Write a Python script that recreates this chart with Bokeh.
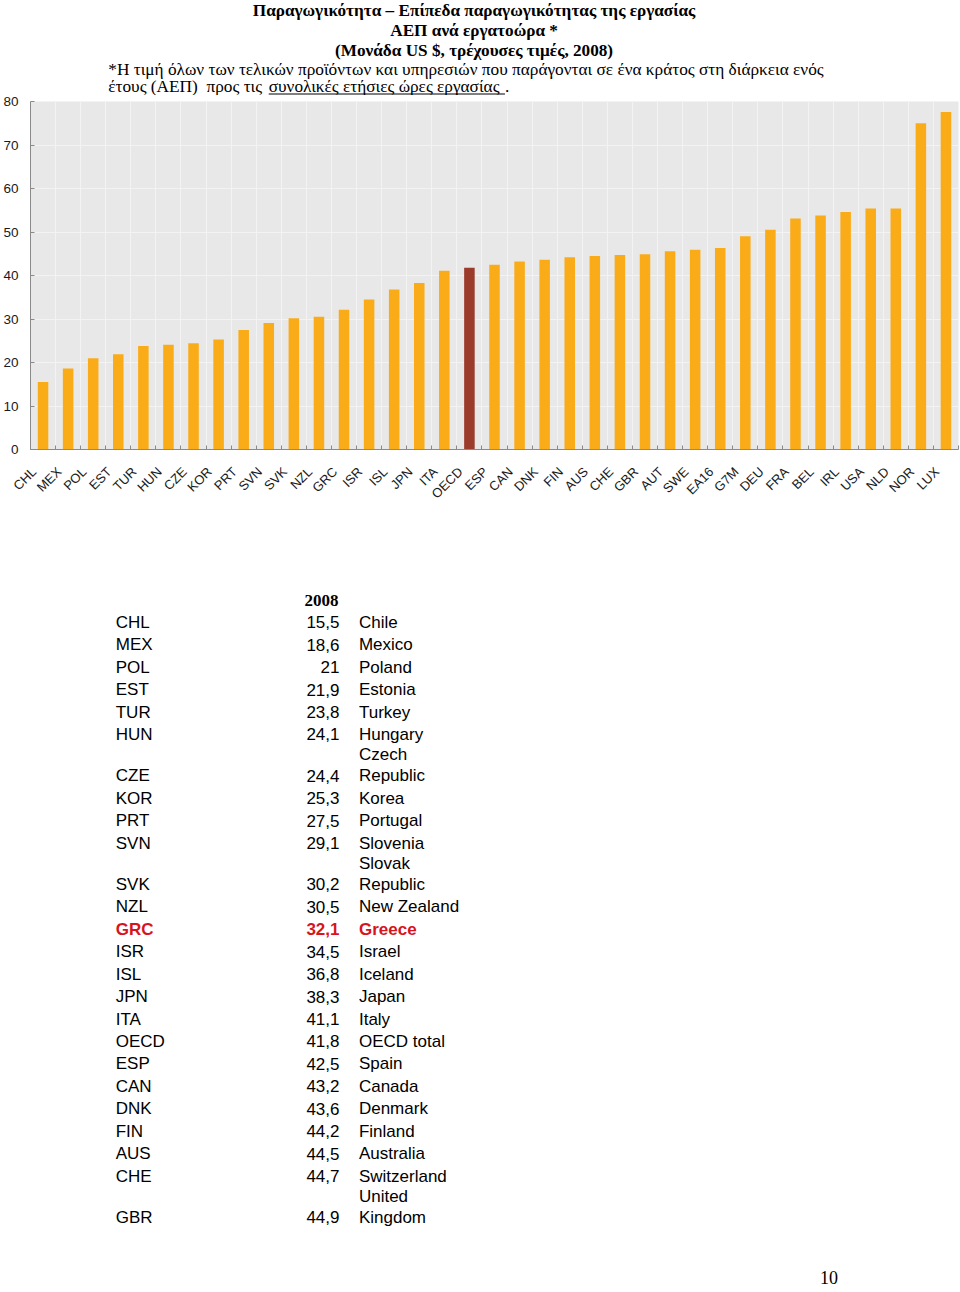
import math
from bokeh.plotting import figure
from bokeh.layouts import column
from bokeh.models import Range1d, FixedTicker, ColumnDataSource, CustomJSTickFormatter
from bokeh.core.properties import value
from bokeh.embed import file_html
from bokeh.resources import INLINE

# ---------------- data ----------------
codes = ["CHL", "MEX", "POL", "EST", "TUR", "HUN", "CZE", "KOR", "PRT", "SVN",
         "SVK", "NZL", "GRC", "ISR", "ISL", "JPN", "ITA", "OECD", "ESP", "CAN",
         "DNK", "FIN", "AUS", "CHE", "GBR", "AUT", "SWE", "EA16", "G7M", "DEU",
         "FRA", "BEL", "IRL", "USA", "NLD", "NOR", "LUX"]
values = [15.5, 18.6, 21.0, 21.9, 23.8, 24.1, 24.4, 25.3, 27.5, 29.1,
          30.2, 30.5, 32.1, 34.5, 36.8, 38.3, 41.1, 41.8, 42.5, 43.2,
          43.6, 44.2, 44.5, 44.7, 44.9, 45.6, 45.9, 46.3, 49.0, 50.5,
          53.1, 53.8, 54.6, 55.4, 55.4, 75.0, 77.6]
highlight_bar = "OECD"
highlight_row = "GRC"
y_ticks = [0, 10, 20, 30, 40, 50, 60, 70, 80]

table_header = "2008"
table_names = ["Chile", "Mexico", "Poland", "Estonia", "Turkey", "Hungary",
               "Czech\nRepublic", "Korea", "Portugal", "Slovenia",
               "Slovak\nRepublic", "New Zealand", "Greece", "Israel", "Iceland",
               "Japan", "Italy", "OECD total", "Spain", "Canada", "Denmark",
               "Finland", "Australia", "Switzerland", "United\nKingdom"]

title_lines = ["Παραγωγικότητα – Επίπεδα παραγωγικότητας της εργασίας",
               "ΑΕΠ ανά εργατοώρα *",
               "(Μονάδα US $, τρέχουσες τιμές, 2008)"]
note_line1 = "*Η τιμή όλων των τελικών προϊόντων και υπηρεσιών που παράγονται σε ένα κράτος στη διάρκεια ενός"
note_line2a = "έτους (ΑΕΠ)\u00a0 προς τις"
note_line2b = "συνολικές ετήσιες ώρες εργασίας"
page_number = "10"

SERIF = value("Liberation Serif")
SANS = value("Liberation Sans")
ORANGE = "#FAAC18"
DARK = "#9A3B2B"
RED = "#D7141E"
W = 960
BL, BR = 27, 2          # common left/right borders so all frames line up


def blank(top, bottom):
    f = figure(width=W, height=bottom - top, output_backend="svg", toolbar_location=None,
               x_range=Range1d(BL, W - BR), y_range=Range1d(bottom, top),
               x_axis_location=None, y_axis_location=None)
    f.min_border_left = BL
    f.min_border_right = BR
    f.min_border_top = 0
    f.min_border_bottom = 0
    f.outline_line_color = None
    f.grid.visible = False
    f.background_fill_color = "white"
    f.border_fill_color = "white"
    return f


# ---------------- header ----------------
H_TOP, H_BOT = 0, 95
head = blank(H_TOP, H_BOT)
head.text(x=[472, 472, 472], y=[10, 30, 50], text=title_lines,
          text_font=SERIF, text_font_style="bold", text_font_size="17.2px",
          text_align="center", text_baseline="middle", text_color="black")
head.text(x=[105], y=[68.5], text=[note_line1], text_font=SERIF, text_font_size="17.3px",
          text_align="left", text_baseline="middle", text_color="black")
head.text(x=[105, 266], y=[86.3, 86.3], text=[note_line2a, note_line2b], text_font=SERIF,
          text_font_size="17.3px", text_align="left", text_baseline="middle", text_color="black")
head.text(x=[503], y=[86.3], text=["."], text_font=SERIF, text_font_size="17.3px",
          text_align="left", text_baseline="middle", text_color="black")
head.segment(x0=[266], y0=[93.5], x1=[503], y1=[93.5], line_color="black", line_width=1)

# ---------------- chart ----------------
C_TOP, C_BOT = 95, 560
n = len(codes)
xs = list(range(n))
colors = [DARK if c == highlight_bar else ORANGE for c in codes]
src = ColumnDataSource(dict(x=xs, top=values, color=colors, code=codes))

p = figure(width=W, height=C_BOT - C_TOP, output_backend="svg", toolbar_location=None,
           x_range=Range1d(-0.5, n - 0.5), y_range=Range1d(0, 80))
p.min_border_top = 101 - C_TOP
p.min_border_bottom = C_BOT - 449
p.min_border_left = BL
p.min_border_right = BR
p.outline_line_color = None
p.background_fill_color = "#E8E8E8"
p.border_fill_color = "white"

p.vbar(x="x", top="top", width=0.42, bottom=0, color="color", line_color=None, source=src)

# label anchors sit a little left of each bar centre (as in the original)
LBL_SHIFT = 0.36
p.xaxis.ticker = FixedTicker(ticks=[i - LBL_SHIFT for i in xs],
                             minor_ticks=[i - 0.5 for i in range(n + 1)])
p.xaxis.formatter = CustomJSTickFormatter(
    args=dict(codes=codes, shift=LBL_SHIFT),
    code="const k = Math.round(tick + shift); return (k >= 0 && k < codes.length) ? codes[k] : '';")
p.xaxis.major_label_orientation = math.pi / 4
p.xaxis.major_label_text_font = "Liberation Sans"
p.xaxis.major_label_text_font_size = "13px"
p.xaxis.major_label_text_color = "#1a1a1a"
p.xaxis.major_label_standoff = 20
p.xaxis.major_tick_in = 0
p.xaxis.major_tick_out = 0
p.xaxis.minor_tick_in = 4
p.xaxis.minor_tick_out = 0
p.xaxis.minor_tick_line_color = "#8A8A8A"
p.xaxis.axis_line_color = "#8A8A8A"

p.yaxis.ticker = FixedTicker(ticks=y_ticks)
p.yaxis.major_label_text_font = "'Liberation Sans Narrow', 'Liberation Sans'"
p.yaxis.major_label_text_font_size = "13.5px"
p.yaxis.major_label_text_color = "#1a1a1a"
p.yaxis.major_label_standoff = 12
p.yaxis.major_tick_in = 4
p.yaxis.major_tick_out = 0
p.yaxis.minor_tick_line_color = None
p.yaxis.axis_line_color = "#8A8A8A"
p.yaxis.major_tick_line_color = "#8A8A8A"

p.xgrid.grid_line_color = None
p.xgrid.minor_grid_line_color = "#F3F3F3"
p.ygrid.grid_line_color = "#F3F3F3"

# ---------------- table ----------------
T_TOP, T_BOT = 560, 1292
tab = blank(T_TOP, T_BOT)
tab.text(x=[319], y=[600], text=[table_header], text_font=SERIF, text_font_style="bold",
         text_font_size="17px", text_align="center", text_baseline="middle", text_color="black")

row_y = []
y = 621.7
for i, name in enumerate(table_names):
    nl = name.count("\n") + 1
    if i > 0:
        y += 22.45 + 18.8 * (nl - 1)
    row_y.append(y)

fmt_vals = [("%g" % v).replace(".", ",") for v in values[:len(table_names)]]
for i, name in enumerate(table_names):
    code = codes[i]
    hl = code == highlight_row
    col = RED if hl else "black"
    style = "bold" if hl else "normal"
    yy = row_y[i]
    parts = name.split("\n")
    name_ys = [yy - 21 * (len(parts) - 1 - k) for k in range(len(parts))]
    kw = dict(text_font=SANS, text_font_size="17px", text_baseline="middle",
              text_color=col, text_font_style=style)
    tab.text(x=[112.5], y=[yy], text=[code], text_align="left", **kw)
    tab.text(x=[337], y=[yy], text=[fmt_vals[i]], text_align="right", **kw)
    tab.text(x=[356.5] * len(parts), y=name_ys, text=parts, text_align="left", **kw)

tab.text(x=[828], y=[1277], text=[page_number], text_font=SERIF, text_font_size="18px",
         text_align="center", text_baseline="middle", text_color="black")

layout = column(head, p, tab, spacing=0)
open("out.html", "w").write(file_html(layout, INLINE))
